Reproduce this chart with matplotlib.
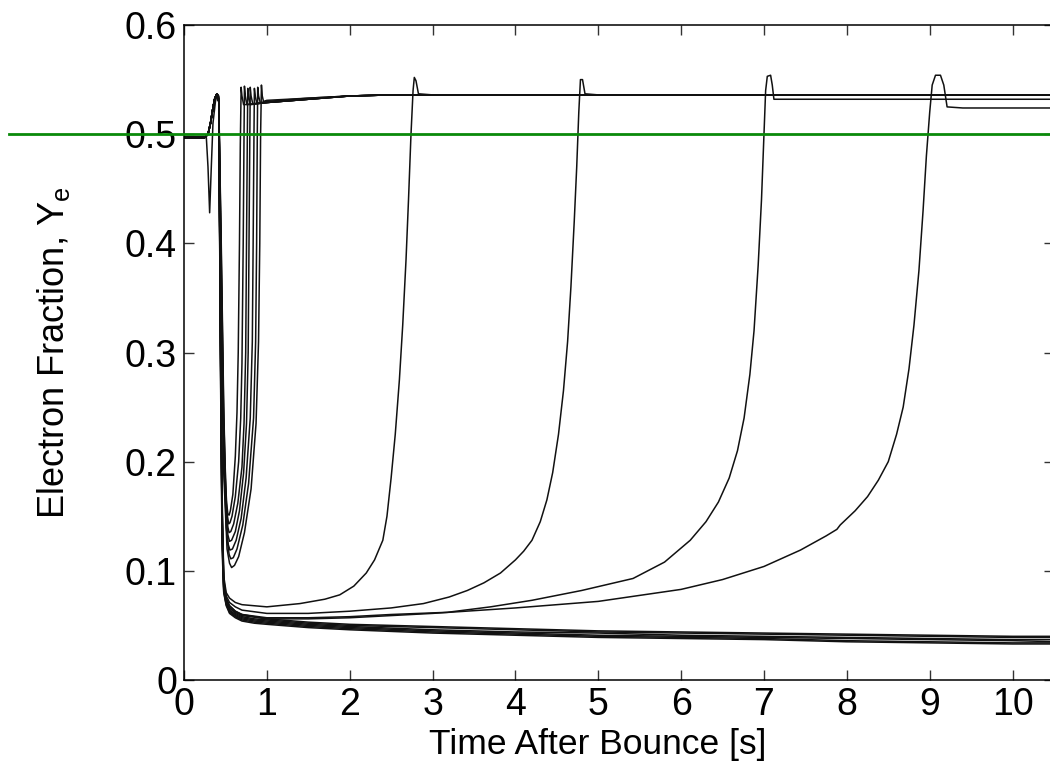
import numpy as np
import matplotlib
matplotlib.use("Agg")
import matplotlib.pyplot as plt

plt.rcParams['font.family'] = ['Liberation Sans', 'DejaVu Sans']
plt.rcParams['mathtext.fontset'] = 'custom'
plt.rcParams['mathtext.rm'] = 'Liberation Sans'

# common start of every trajectory (flat near 0.5, then the hump)
head_t = [0.0, 0.25, 0.29, 0.32, 0.35, 0.37, 0.39, 0.40]
head_y = [0.497, 0.497, 0.50, 0.51, 0.524, 0.532, 0.536, 0.537]
# one trajectory dips below 0.5 first
dip_t = [0.0, 0.27, 0.29, 0.31, 0.33, 0.35, 0.38, 0.40]
dip_y = [0.497, 0.497, 0.47, 0.428, 0.47, 0.51, 0.53, 0.536]

# trajectories that stay neutron rich
low_t = [0.42, 0.44, 0.46, 0.48, 0.51, 0.55, 0.62, 0.7, 0.85, 1.0, 1.5, 2.0, 3.0, 4.0, 5.0, 6.0, 7.0, 8.0, 9.0, 10.0, 10.6]
low_1 = [0.530, 0.34, 0.16, 0.090, 0.075, 0.068, 0.063, 0.060, 0.058, 0.056, 0.053, 0.051, 0.049, 0.047, 0.045, 0.044, 0.043, 0.042, 0.041, 0.040, 0.040]
low_2 = [0.530, 0.33, 0.15, 0.087, 0.073, 0.066, 0.061, 0.058, 0.056, 0.055, 0.052, 0.050, 0.048, 0.046, 0.044, 0.043, 0.042, 0.041, 0.040, 0.039, 0.039]
low_3 = [0.532, 0.32, 0.14, 0.085, 0.071, 0.064, 0.060, 0.057, 0.055, 0.054, 0.051, 0.049, 0.046, 0.044, 0.043, 0.041, 0.040, 0.039, 0.038, 0.037, 0.037]
low_4 = [0.533, 0.31, 0.14, 0.083, 0.070, 0.063, 0.059, 0.056, 0.054, 0.053, 0.050, 0.048, 0.045, 0.043, 0.041, 0.040, 0.039, 0.038, 0.037, 0.036, 0.035]
low_5 = [0.534, 0.30, 0.13, 0.081, 0.069, 0.062, 0.058, 0.055, 0.053, 0.052, 0.049, 0.047, 0.044, 0.042, 0.040, 0.039, 0.038, 0.036, 0.035, 0.034, 0.034]
low_6 = [0.535, 0.29, 0.12, 0.080, 0.068, 0.061, 0.057, 0.054, 0.052, 0.051, 0.048, 0.046, 0.043, 0.041, 0.039, 0.038, 0.037, 0.035, 0.034, 0.033, 0.033]

# fast re-protonised trajectories (the nested U shapes)
fast_1_t = [0.42, 0.45, 0.48, 0.50, 0.515, 0.53, 0.545, 0.56, 0.59, 0.62, 0.64, 0.655, 0.67, 0.68, 0.69, 0.70, 0.72, 1.0, 1.5, 2.0, 2.5, 10.6]
fast_1_y = [0.53, 0.40, 0.25, 0.185, 0.162, 0.152, 0.151, 0.155, 0.17, 0.205, 0.245, 0.30, 0.40, 0.49, 0.543, 0.535, 0.527, 0.529, 0.532, 0.535, 0.536, 0.536]
fast_2_t = [0.42, 0.45, 0.48, 0.51, 0.525, 0.54, 0.555, 0.58, 0.62, 0.66, 0.685, 0.70, 0.715, 0.725, 0.73, 0.74, 0.76, 1.0, 1.5, 2.0, 2.5, 10.6]
fast_2_y = [0.53, 0.39, 0.24, 0.165, 0.150, 0.143, 0.144, 0.150, 0.168, 0.20, 0.24, 0.29, 0.40, 0.50, 0.544, 0.535, 0.527, 0.529, 0.532, 0.535, 0.536, 0.536]
fast_3_t = [0.42, 0.45, 0.48, 0.51, 0.53, 0.545, 0.565, 0.60, 0.65, 0.70, 0.725, 0.745, 0.755, 0.765, 0.77, 0.78, 0.80, 1.0, 1.5, 2.0, 2.5, 10.6]
fast_3_y = [0.53, 0.38, 0.23, 0.155, 0.140, 0.135, 0.136, 0.143, 0.162, 0.195, 0.235, 0.30, 0.40, 0.50, 0.542, 0.535, 0.527, 0.529, 0.532, 0.535, 0.536, 0.536]
fast_4_t = [0.42, 0.45, 0.48, 0.51, 0.53, 0.55, 0.575, 0.62, 0.67, 0.72, 0.755, 0.775, 0.785, 0.795, 0.80, 0.81, 0.83, 1.0, 1.5, 2.0, 2.5, 10.6]
fast_4_y = [0.53, 0.37, 0.22, 0.15, 0.133, 0.127, 0.128, 0.136, 0.155, 0.19, 0.235, 0.30, 0.40, 0.50, 0.543, 0.535, 0.528, 0.529, 0.532, 0.535, 0.536, 0.536]
fast_5_t = [0.42, 0.45, 0.48, 0.51, 0.535, 0.555, 0.585, 0.63, 0.69, 0.75, 0.80, 0.825, 0.835, 0.845, 0.85, 0.86, 0.88, 1.0, 1.5, 2.0, 2.5, 10.6]
fast_5_y = [0.53, 0.36, 0.21, 0.14, 0.124, 0.119, 0.120, 0.128, 0.148, 0.185, 0.24, 0.31, 0.40, 0.50, 0.542, 0.535, 0.528, 0.529, 0.532, 0.535, 0.536, 0.536]
fast_6_t = [0.42, 0.45, 0.48, 0.52, 0.545, 0.565, 0.595, 0.64, 0.71, 0.78, 0.84, 0.865, 0.877, 0.885, 0.89, 0.90, 0.92, 1.0, 1.5, 2.0, 2.5, 10.6]
fast_6_y = [0.53, 0.35, 0.20, 0.13, 0.115, 0.111, 0.112, 0.120, 0.142, 0.18, 0.24, 0.31, 0.40, 0.50, 0.543, 0.535, 0.529, 0.530, 0.533, 0.535, 0.536, 0.536]
fast_7_t = [0.42, 0.45, 0.48, 0.52, 0.55, 0.575, 0.61, 0.66, 0.73, 0.81, 0.87, 0.90, 0.915, 0.925, 0.935, 0.945, 0.96, 1.0, 1.5, 2.0, 2.5, 10.6]
fast_7_y = [0.53, 0.34, 0.19, 0.12, 0.107, 0.103, 0.105, 0.113, 0.135, 0.175, 0.235, 0.31, 0.40, 0.50, 0.545, 0.535, 0.530, 0.531, 0.533, 0.535, 0.536, 0.536]

# slow trajectories, re-protonised at 2.8, 4.8, 7.0 and 9.1 s
slow_1_t = [0.42, 0.44, 0.46, 0.48, 0.51, 0.55, 0.62, 0.7, 1.0, 1.4, 1.7, 1.88, 2.05, 2.2, 2.3, 2.4, 2.45, 2.5, 2.55,
            2.6, 2.64, 2.68, 2.71, 2.74, 2.765, 2.78, 2.80, 2.83, 3.0, 10.6]
slow_1_y = [0.53, 0.35, 0.17, 0.095, 0.080, 0.075, 0.071, 0.069, 0.067, 0.070, 0.074, 0.078, 0.086, 0.098, 0.110, 0.128,
            0.150, 0.185, 0.225, 0.275, 0.325, 0.385, 0.44, 0.50, 0.54, 0.552, 0.549, 0.537, 0.536, 0.536]
slow_2_t = [0.42, 0.44, 0.46, 0.48, 0.51, 0.55, 0.62, 0.7, 1.0, 1.5, 2.0, 2.5, 2.89, 3.2, 3.42, 3.62, 3.82, 4.0, 4.1, 4.2,
            4.3, 4.38, 4.45, 4.52, 4.58, 4.63, 4.67, 4.71, 4.74, 4.765, 4.785, 4.81, 4.84, 5.0, 10.6]
slow_2_y = [0.53, 0.34, 0.16, 0.092, 0.077, 0.071, 0.067, 0.064, 0.061, 0.061, 0.063, 0.066, 0.070, 0.076, 0.082, 0.089,
            0.098, 0.110, 0.118, 0.128, 0.145, 0.165, 0.19, 0.225, 0.265, 0.31, 0.36, 0.42, 0.47, 0.52, 0.550, 0.550,
            0.537, 0.536, 0.536]
slow_3_t = [0.42, 0.44, 0.46, 0.48, 0.51, 0.55, 0.62, 0.7, 1.0, 1.5, 2.0, 2.5, 3.18, 3.7, 4.2, 4.8, 5.42, 5.8, 6.11, 6.3,
            6.45, 6.58, 6.68, 6.76, 6.83, 6.88, 6.93, 6.97, 7.0, 7.02, 7.04, 7.08, 7.10, 7.12, 7.3, 10.6]
slow_3_y = [0.53, 0.33, 0.15, 0.088, 0.074, 0.068, 0.063, 0.060, 0.057, 0.057, 0.058, 0.060, 0.062, 0.067, 0.073, 0.082,
            0.093, 0.108, 0.128, 0.145, 0.163, 0.185, 0.21, 0.24, 0.28, 0.32, 0.38, 0.44, 0.50, 0.54, 0.553, 0.554,
            0.545, 0.532, 0.532, 0.532]
slow_4_t = [0.42, 0.44, 0.46, 0.48, 0.51, 0.55, 0.62, 0.7, 1.0, 1.5, 2.0, 3.0, 4.0, 5.0, 6.0, 6.5, 7.0, 7.44, 7.75, 7.88,
            7.92, 8.1, 8.25, 8.38, 8.5, 8.6, 8.68, 8.75, 8.81, 8.87, 8.92, 8.96, 9.0, 9.03, 9.07, 9.13, 9.17, 9.21,
            9.4, 10.6]
slow_4_y = [0.53, 0.32, 0.14, 0.085, 0.072, 0.066, 0.062, 0.059, 0.056, 0.056, 0.057, 0.061, 0.066, 0.072, 0.083, 0.092,
            0.104, 0.119, 0.132, 0.138, 0.142, 0.155, 0.168, 0.183, 0.20, 0.225, 0.25, 0.285, 0.325, 0.375, 0.43,
            0.48, 0.52, 0.545, 0.554, 0.554, 0.545, 0.525, 0.524, 0.524]

x_ticks = [0, 1, 2, 3, 4, 5, 6, 7, 8, 9, 10]
y_ticks = [0, 0.1, 0.2, 0.3, 0.4, 0.5, 0.6]
y_tick_labels = ['0', '0.1', '0.2', '0.3', '0.4', '0.5', '0.6']
y_ref = 0.5

fig = plt.figure(figsize=(10.5, 7.7), dpi=100)
ax = fig.add_axes([0.1752, 0.1169, 0.8286, 0.8506])

tracks = [(low_t, low_1), (low_t, low_2), (low_t, low_3), (low_t, low_4), (low_t, low_5), (low_t, low_6),
          (fast_1_t, fast_1_y), (fast_2_t, fast_2_y), (fast_3_t, fast_3_y), (fast_4_t, fast_4_y),
          (fast_5_t, fast_5_y), (fast_6_t, fast_6_y), (fast_7_t, fast_7_y),
          (slow_1_t, slow_1_y), (slow_2_t, slow_2_y), (slow_3_t, slow_3_y), (slow_4_t, slow_4_y)]

for i, (t, y) in enumerate(tracks):
    ht, hy = (dip_t, dip_y) if i == 0 else (head_t, head_y)
    ax.plot(ht + list(t), hy + list(y), color='#111111', lw=1.1)

# reference line runs past the axes on the left
ax.axhline(y_ref, xmin=-0.201, xmax=1.05, color='#0a8a0a', lw=2.0, clip_on=False, zorder=5)

ax.set_xlim(0, 10.5)
ax.set_ylim(0, 0.6)
ax.set_xticks(x_ticks)
ax.set_yticks(y_ticks)
ax.set_yticklabels(y_tick_labels)
ax.tick_params(direction='in', length=7, width=1.0, labelsize=27, pad=5,
               top=True, right=True, color='#333333')
for s in ax.spines.values():
    s.set_linewidth(1.1)

ax.set_xlabel('Time After Bounce [s]', fontsize=25.5, labelpad=4)
ax.xaxis.label.set_x(0.476)
ax.set_ylabel(r'Electron Fraction, Y$_\mathregular{e}$', fontsize=26, labelpad=38)

fig.savefig('out.png', dpi=100)
